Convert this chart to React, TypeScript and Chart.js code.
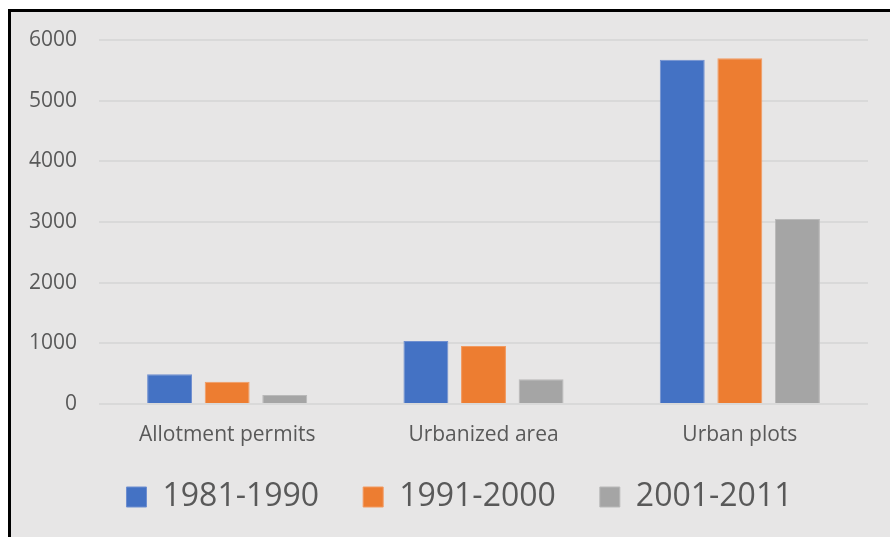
import React, { useEffect, useRef } from "react";
import { Chart, registerables } from "chart.js";

Chart.register(...registerables);

const categories = ["Allotment permits", "Urbanized area", "Urban plots"];
const seriesNames = ["1981-1990", "1991-2000", "2001-2011"];
const values1981 = [490, 1040, 5675];
const values1991 = [365, 955, 5700];
const values2001 = [150, 410, 3050];
const yTicks = [0, 1000, 2000, 3000, 4000, 5000, 6000];

const fills = ["#4472C4", "#ED7D31", "#A5A5A5"];
const edges = ["#6F8FD0", "#F29A60", "#B9B9B9"];

const LEGEND_SHIFT = 11;

const legendShift = {
  id: "legendShift",
  afterLayout(chart: any) {
    const l = chart.legend;
    if (l) {
      l.top -= LEGEND_SHIFT;
      l.bottom -= LEGEND_SHIFT;
      l.left = 0;
      l.right = 897;
      l.width = 897;
    }
  },
};

export default function App() {
  const ref = useRef<HTMLCanvasElement | null>(null);

  useEffect(() => {
    if (!ref.current) return;
    Chart.defaults.font.family = "'Open Sans', 'Noto Sans', sans-serif";
    Chart.defaults.color = "#595959";
    const data = [values1981, values1991, values2001];
    const chart = new Chart(ref.current, {
      type: "bar",
      data: {
        labels: categories,
        datasets: seriesNames.map((name, i) => ({
          label: name,
          data: data[i],
          backgroundColor: fills[i],
          borderColor: edges[i],
          borderWidth: 1,
          barPercentage: 0.78,
          categoryPercentage: 0.674,
        })),
      },
      plugins: [legendShift],
      options: {
        responsive: false,
        animation: false,
        devicePixelRatio: 1,
        layout: { padding: { left: 0, right: 43, top: 28, bottom: 8 } },
        plugins: {
          tooltip: { enabled: false },
          legend: {
            position: "bottom",
            labels: {
              boxWidth: 20,
              boxHeight: 20,
              padding: 44,
              color: "#595959",
              font: { size: 32 },
            },
          },
        },
        scales: {
          x: {
            grid: { display: false, drawTicks: false },
            border: { display: false },
            ticks: { padding: 18, font: { size: 21 }, color: "#595959" },
            afterFit: (s: any) => {
              s.height = 44;
            },
          },
          y: {
            min: 0,
            max: 6000,
            afterBuildTicks: (s: any) => {
              s.ticks = yTicks.map((v) => ({ value: v }));
            },
            grid: { color: "#D9D9D9", lineWidth: 2, drawTicks: false },
            border: { display: false },
            ticks: {
              padding: 22,
              font: { size: 21 },
              color: "#595959",
              callback: (v: any) => String(v),
            },
            afterFit: (s: any) => {
              s.width = 88;
              s.paddingTop = 0;
              s.paddingBottom = 0;
            },
          },
        },
      },
    });
    return () => chart.destroy();
  }, []);

  return (
    <div
      style={{
        position: "fixed",
        left: 0,
        top: 0,
        width: 890,
        height: 537,
        overflow: "hidden",
        background: "#ffffff",
      }}
    >
      <div
        style={{
          position: "absolute",
          left: 8,
          top: 9,
          width: 930,
          height: 560,
          boxSizing: "border-box",
          borderLeft: "3px solid #000",
          borderTop: "3px solid #000",
          background: "#E7E6E6",
        }}
      >
        <canvas
          ref={ref}
          width={900}
          height={530}
          style={{ position: "absolute", left: 0, top: 0, width: 900, height: 530 }}
        />
      </div>
    </div>
  );
}
